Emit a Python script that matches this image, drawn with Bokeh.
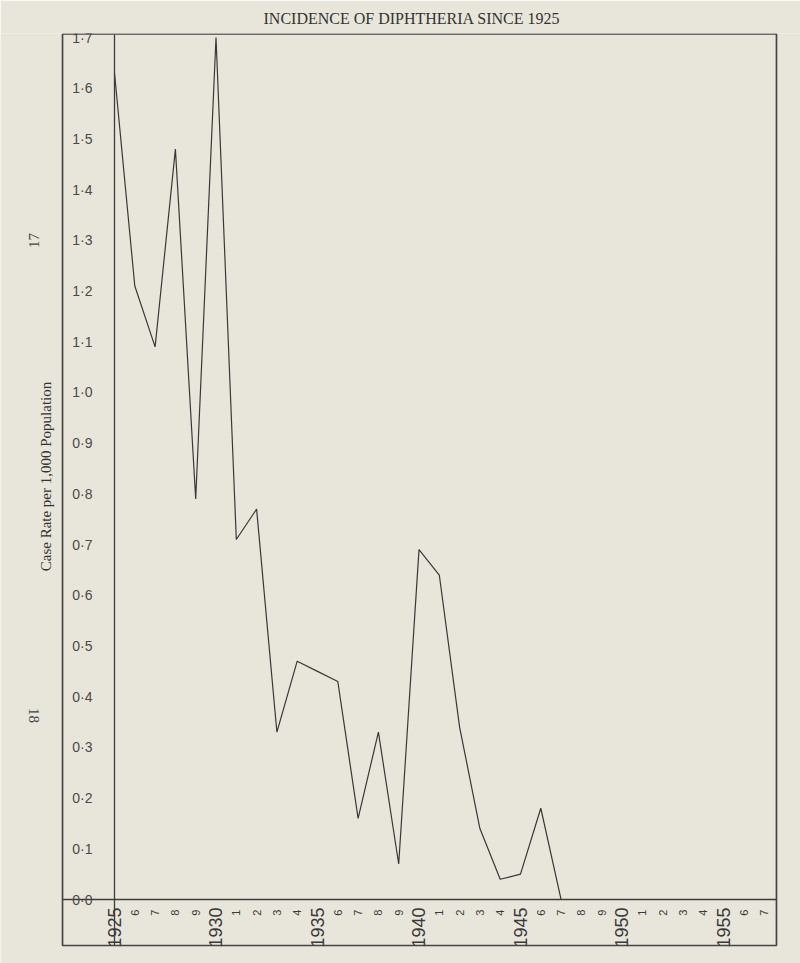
from bokeh.plotting import figure
from bokeh.models import FixedTicker, LinearAxis, Range1d, Label, BoxAnnotation
from bokeh.embed import file_html
from bokeh.resources import INLINE
import math

# ---- data ----
years = [1925, 1926, 1927, 1928, 1929, 1930, 1931, 1932, 1933, 1934, 1935, 1936,
         1937, 1938, 1939, 1940, 1941, 1942, 1943, 1944, 1945, 1946, 1947]
rates = [1.63, 1.21, 1.09, 1.48, 0.79, 1.70, 0.71, 0.77, 0.33, 0.47, 0.45, 0.43,
         0.16, 0.33, 0.07, 0.69, 0.64, 0.34, 0.14, 0.04, 0.05, 0.18, 0.00]

y_ticks = [0.0, 0.1, 0.2, 0.3, 0.4, 0.5, 0.6, 0.7, 0.8, 0.9,
           1.0, 1.1, 1.2, 1.3, 1.4, 1.5, 1.6, 1.7]
y_tick_labels = ["0·0", "0·1", "0·2", "0·3", "0·4", "0·5", "0·6", "0·7", "0·8", "0·9",
                 "1·0", "1·1", "1·2", "1·3", "1·4", "1·5", "1·6", "1·7"]

major_years = [1925, 1930, 1935, 1940, 1945, 1950, 1955]
major_labels = ["1925", "1930", "1935", "1940", "1945", "1950", "1955"]
minor_years = [1926, 1927, 1928, 1929, 1931, 1932, 1933, 1934, 1936, 1937, 1938, 1939,
               1941, 1942, 1943, 1944, 1946, 1947, 1948, 1949, 1951, 1952, 1953, 1954,
               1956, 1957]
minor_labels = ["6", "7", "8", "9", "1", "2", "3", "4", "6", "7", "8", "9",
                "1", "2", "3", "4", "6", "7", "8", "9", "1", "2", "3", "4",
                "6", "7"]

title_text = "INCIDENCE OF DIPHTHERIA SINCE 1925"
y_title = "Case Rate per 1,000 Population"
page_numbers = ["17", "18"]

# chart box extents (data units)
X_LO, X_HI = 1922.44, 1957.61
Y_LO, Y_HI = -0.0907, 1.707

BG = "#e8e6da"
INK = "#3c3c3c"

p = figure(width=800, height=963, output_backend="svg", toolbar_location=None,
           x_range=Range1d(1919.384, 1958.793), y_range=Range1d(-0.1262, 1.708),
           x_axis_type=None, y_axis_type=None,
           min_border_left=0, min_border_right=0, min_border_top=33, min_border_bottom=0)
p.background_fill_color = BG
p.border_fill_color = BG
p.outline_line_color = None

# outer ruled box
p.add_layout(BoxAnnotation(left=X_LO, right=X_HI, bottom=Y_LO, top=Y_HI,
                           fill_alpha=0, line_color="#454545", line_alpha=1.0,
                           line_width=1.7))

# title
p.title.text = title_text
p.title.align = "left"
p.title.offset = 263
p.title.text_font = "Liberation Serif"
p.title.text_font_size = "16px"
p.title.text_font_style = "normal"
p.title.text_color = "#333333"
p.title.standoff = 13

# y axis drawn on the 1925 line
yax = LinearAxis(fixed_location=1925, ticker=FixedTicker(ticks=y_ticks),
                 major_label_overrides=dict(zip(y_ticks, y_tick_labels)),
                 bounds=(Y_LO, Y_HI))
yax.major_tick_line_color = None
yax.minor_tick_line_color = None
yax.major_label_standoff = 16
yax.major_label_text_font = "'Liberation Sans Narrow', 'Liberation Sans'"
yax.major_label_text_font_size = "14px"
yax.major_label_text_color = "#4a4a4a"
yax.axis_line_color = INK
yax.axis_line_width = 1.3
p.add_layout(yax, "left")

# x axis on the zero line: full years
xmaj = LinearAxis(fixed_location=0, ticker=FixedTicker(ticks=major_years),
                  major_label_overrides=dict(zip(major_years, major_labels)),
                  major_label_orientation=math.pi / 2, bounds=(X_LO, X_HI))
xmaj.major_tick_line_color = None
xmaj.minor_tick_line_color = None
xmaj.major_label_standoff = 2
xmaj.major_label_text_font = "Liberation Sans"
xmaj.major_label_text_font_size = "18px"
xmaj.major_label_text_color = "#3a3a3a"
xmaj.axis_line_color = INK
xmaj.axis_line_width = 1.5
p.add_layout(xmaj, "below")

# x axis: single digit years
xmin = LinearAxis(fixed_location=0, ticker=FixedTicker(ticks=minor_years),
                  major_label_overrides=dict(zip(minor_years, minor_labels)),
                  major_label_orientation=math.pi / 2)
xmin.major_tick_line_color = None
xmin.minor_tick_line_color = None
xmin.major_label_standoff = 4
xmin.major_label_text_font = "Liberation Sans"
xmin.major_label_text_font_size = "11px"
xmin.major_label_text_color = "#3a3a3a"
xmin.axis_line_color = None
p.add_layout(xmin, "below")

# data line
p.line(years, rates, line_color="#383838", line_width=1.2)

# y title and page numbers in the margin (screen units, from frame bottom-left)
p.add_layout(Label(x=45, y=487, x_units="screen", y_units="screen", text=y_title,
                   angle=math.pi / 2, text_align="center", text_baseline="middle",
                   text_font="Liberation Serif", text_font_size="15px",
                   text_color="#333333"))
p.add_layout(Label(x=33, y=723, x_units="screen", y_units="screen", text=page_numbers[0],
                   angle=math.pi / 2, text_align="center", text_baseline="middle",
                   text_font="Liberation Serif", text_font_size="15px",
                   text_color="#444444"))
p.add_layout(Label(x=33, y=248, x_units="screen", y_units="screen", text=page_numbers[1],
                   angle=-math.pi / 2, text_align="center", text_baseline="middle",
                   text_font="Liberation Serif", text_font_size="15px",
                   text_color="#444444"))

html = file_html(p, INLINE)
open("out.html", "w").write(html)
